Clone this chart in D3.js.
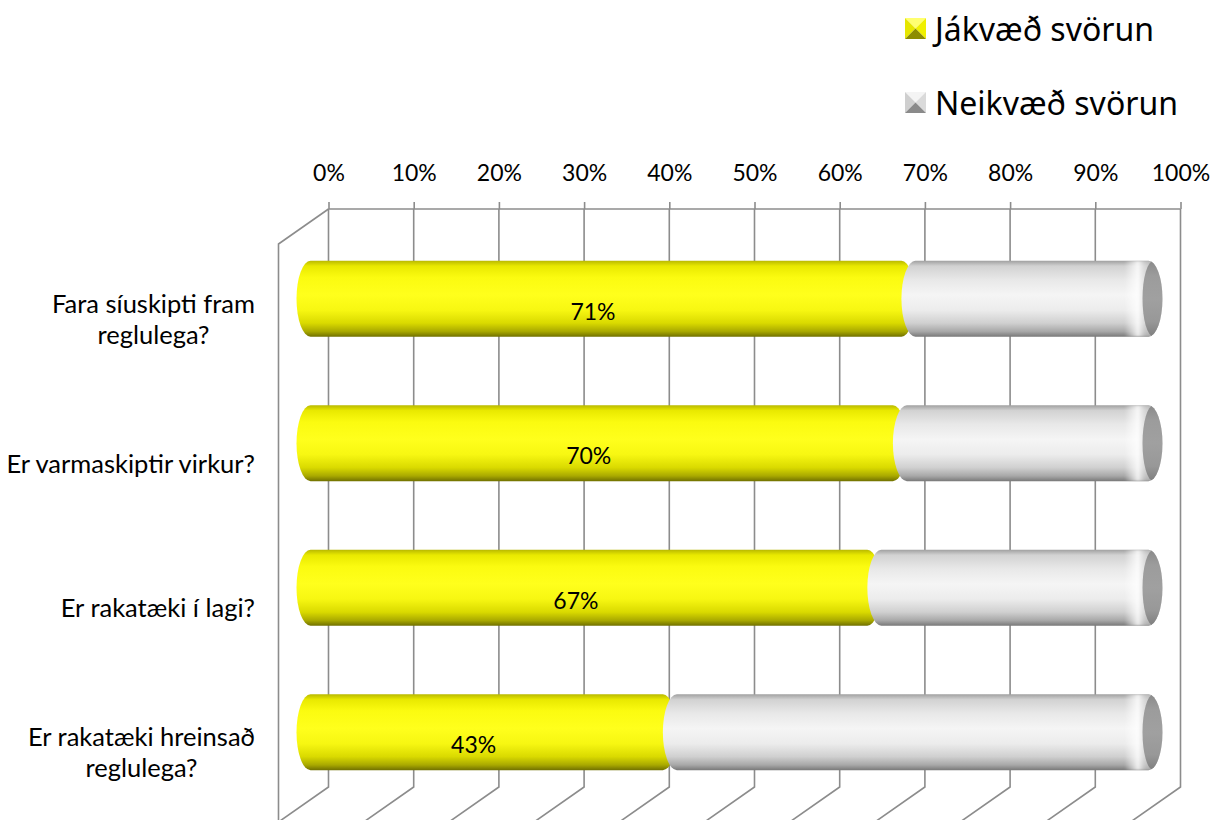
<!DOCTYPE html>
<html><head><meta charset="utf-8">
<script src="https://cdn.jsdelivr.net/npm/d3@7"></script>
<style>
html,body{margin:0;padding:0;background:#fff;}
svg{display:block;}
</style></head>
<body>
<svg id="chart" width="1218" height="820"></svg>
<script>
// ---- data ----
const categories = [
  ["Fara síuskipti fram", "reglulega?"],
  ["Er varmaskiptir virkur?"],
  ["Er rakatæki í lagi?"],
  ["Er rakatæki hreinsað", "reglulega?"]
];
const positive = [0.71, 0.70, 0.67, 0.43];
const negative = [0.29, 0.30, 0.33, 0.57];
const seriesNames = ["Jákvæð svörun", "Neikvæð svörun"];
const tickValues = [0, 0.1, 0.2, 0.3, 0.4, 0.5, 0.6, 0.7, 0.8, 0.9, 1.0];

// ---- layout ----
const svg = d3.select("#chart");
const backTop = 209, backBottom = 787;
const depthX = -50, depthY = 35;
const x = d3.scaleLinear().domain([0, 1]).range([328.5, 1180.5]);
const y = d3.scaleBand().domain(d3.range(categories.length)).range([backTop, backBottom]);
const gridColor = "#8c8c8c";
const fontMain = "Lato, 'Open Sans', sans-serif";

// gradients
const defs = svg.append("defs");
function vGrad(id, stops) {
  const g = defs.append("linearGradient").attr("id", id)
    .attr("x1", 0).attr("y1", 0).attr("x2", 0).attr("y2", 1);
  stops.forEach(s => g.append("stop").attr("offset", s[0]).attr("stop-color", s[1]));
}
function hGrad(id, stops) {
  const g = defs.append("linearGradient").attr("id", id)
    .attr("x1", 0).attr("y1", 0).attr("x2", 1).attr("y2", 0);
  stops.forEach(s => g.append("stop").attr("offset", s[0]).attr("stop-color", s[1])
    .attr("stop-opacity", s[2] === undefined ? 1 : s[2]));
}
vGrad("gY", [[0, "#b9b900"], [0.07, "#e9e900"], [0.22, "#fbfb10"], [0.45, "#ffff1c"], [0.65, "#f7f712"], [0.82, "#dada00"], [0.93, "#a9a900"], [1, "#707000"]]);
vGrad("gG", [[0, "#a0a0a0"], [0.07, "#d2d2d2"], [0.25, "#e8e8e8"], [0.45, "#f5f5f5"], [0.65, "#ececec"], [0.82, "#d0d0d0"], [0.93, "#a8a8a8"], [1, "#787878"]]);
vGrad("gFace", [[0, "#8a8a8a"], [0.2, "#9c9c9c"], [0.5, "#a0a0a0"], [0.8, "#989898"], [1, "#7e7e7e"]]);
hGrad("gEndShade", [[0, "#ffffff", 0], [0.45, "#ffffff", 0.85], [0.7, "#d8d8d8", 0.6], [1, "#b0b0b0", 0.7]]);
defs.append("filter").attr("id", "blur").append("feGaussianBlur").attr("stdDeviation", 1.2);

// ---- grid (walls & floor) ----
const grid = svg.append("g").attr("fill", "none").attr("stroke", gridColor).attr("stroke-width", 1.6);
grid.append("path").attr("d", `M${x(0)},${backTop}L${x(1)},${backTop}`);
grid.append("path").attr("d", `M${x(0)},${backTop}L${x(0) + depthX},${backTop + depthY}L${x(0) + depthX},${830}`);
tickValues.forEach(t => {
  grid.append("path").attr("d",
    `M${x(t)},${backTop}L${x(t)},${backBottom}L${x(t) + depthX},${backBottom + depthY}`);
});

// top axis
const axis = d3.axisTop(x).tickValues(tickValues).tickSize(7).tickPadding(21)
  .tickFormat(d3.format(".0%"));
const ag = svg.append("g").attr("transform", `translate(0,${backTop})`).call(axis);
ag.select(".domain").remove();
ag.selectAll(".tick line").attr("stroke", gridColor).attr("stroke-width", 1.6);
ag.selectAll(".tick text").attr("font-family", fontMain).attr("font-size", 23).attr("fill", "#000");

// ---- bars (cylinders at mid depth) ----
const midX = depthX / 2, midY = depthY / 2;
const half = 38, capR = 14, ext = 7;
const bars = svg.append("g");
function segPath(xa, xb, cy) {
  const L = xa - ext, R = xb + ext;
  return `M${L + capR},${cy - half}L${R - capR},${cy - half}` +
    `A${capR},${half} 0 0 1 ${R - capR},${cy + half}` +
    `L${L + capR},${cy + half}A${capR},${half} 0 0 1 ${L + capR},${cy - half}Z`;
}
categories.forEach((c, i) => {
  const cy = y(i) + y.bandwidth() / 2 + midY;
  const x0 = x(0) + midX, x1 = x(positive[i]) + midX, x2 = x(positive[i] + negative[i]) + midX;
  // positive
  bars.append("path").attr("d", segPath(x0, x1, cy)).attr("fill", "url(#gY)");
  // negative
  const negD = segPath(x1, x2, cy);
  bars.append("path").attr("d", negD).attr("fill", "url(#gG)");
  // end of the cylinder, clipped to its body
  const cid = "clip" + i;
  defs.append("clipPath").attr("id", cid).append("path").attr("d", negD);
  const R = x2 + ext;
  const endG = bars.append("g").attr("clip-path", `url(#${cid})`);
  endG.append("rect").attr("x", R - 38).attr("y", cy - half).attr("width", 30).attr("height", 2 * half)
    .attr("fill", "url(#gEndShade)").attr("filter", "url(#blur)");
  endG.append("ellipse").attr("cx", R - 9).attr("cy", cy).attr("rx", 11).attr("ry", half)
    .attr("fill", "url(#gFace)");
  // data label
  bars.append("text")
    .attr("x", (x0 + x1) / 2 - 13).attr("y", cy + 12)
    .attr("text-anchor", "middle").attr("dominant-baseline", "central")
    .attr("font-family", fontMain).attr("font-size", 23).attr("fill", "#000")
    .text(d3.format(".0%")(positive[i]));
});

// ---- category labels ----
const labG = svg.append("g").attr("font-family", fontMain).attr("font-size", 25.5).attr("fill", "#000");
categories.forEach((lines, i) => {
  const cy = y(i) + y.bandwidth() / 2 + depthY + 2;
  const g = labG.append("g");
  const texts = lines.map((ln, k) => g.append("text")
    .attr("y", cy + (k - (lines.length - 1) / 2) * 31)
    .attr("dominant-baseline", "central").attr("text-anchor", "middle").text(ln));
  const maxW = d3.max(texts, t => t.node().getComputedTextLength());
  texts.forEach(t => t.attr("x", 255 - maxW / 2));
});

// ---- legend ----
const legendColors = [
  ["#ffff70", "#e6e600", "#f0f000", "#8c8c00"],
  ["#f4f4f4", "#cfcfcf", "#dadada", "#8a8a8a"]
];
const leg = svg.append("g");
seriesNames.forEach((name, k) => {
  const cy = 28.5 + k * 74;
  const s = 21, lx = 905, ly = cy - s / 2;
  const cx = lx + s / 2, ccy = ly + s / 2;
  const cols = legendColors[k];
  const tri = [
    [[lx, ly], [lx + s, ly], [cx, ccy], cols[0]],
    [[lx, ly], [lx, ly + s], [cx, ccy], cols[1]],
    [[lx + s, ly], [lx + s, ly + s], [cx, ccy], cols[2]],
    [[lx, ly + s], [lx + s, ly + s], [cx, ccy], cols[3]]
  ];
  tri.forEach(t => leg.append("path").attr("d", `M${t[0]}L${t[1]}L${t[2]}Z`).attr("fill", t[3]));
  leg.append("text").attr("x", 935).attr("y", cy).attr("dominant-baseline", "central")
    .attr("font-family", "'Noto Sans', sans-serif").attr("font-size", 32).attr("fill", "#000")
    .text(name);
});
</script>
</body></html>
